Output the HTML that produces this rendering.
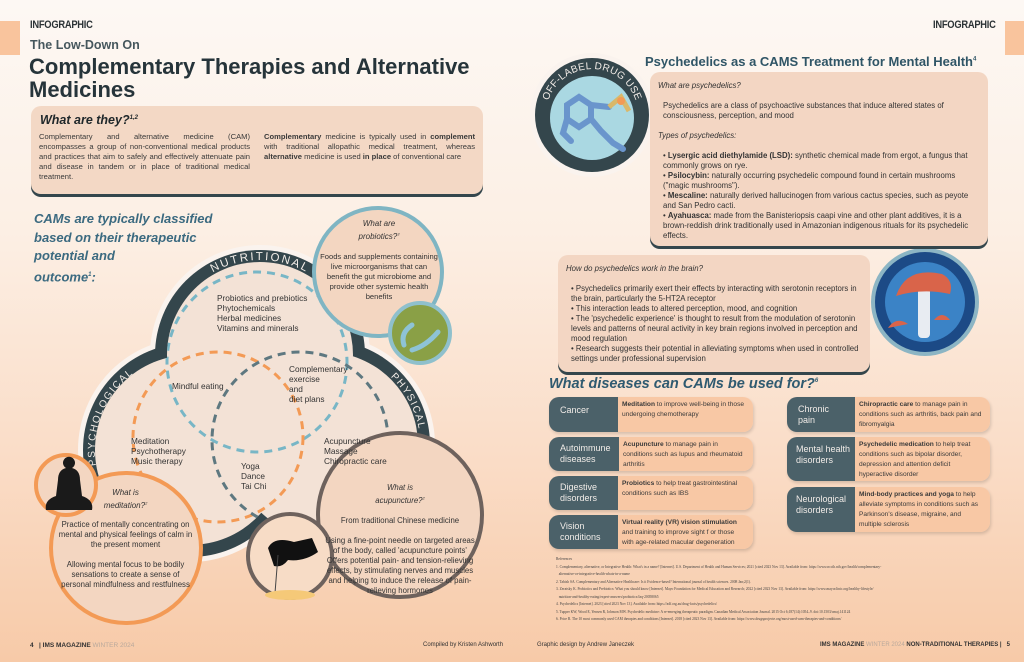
<!DOCTYPE html>
<html><head><meta charset="utf-8"><style>
*{margin:0;padding:0;box-sizing:border-box}
body{width:1024px;height:662px;position:relative;overflow:hidden;font-family:"Liberation Sans",sans-serif;color:#2c3336;
background:linear-gradient(180deg,#fdf8f4 0%,#fcefe4 35%,#fadcc6 70%,#f7caa8 100%);}
.a{position:absolute}
.inf{font-size:11px;font-weight:bold;letter-spacing:-0.3px;transform:scaleX(.85);transform-origin:left top}
.box{position:absolute;background:#f3d8c5;border-radius:10px;box-shadow:0 3px 0 #34464c}
.t9{font-size:7.6px;line-height:10px}
.row{position:absolute;border-radius:10px;overflow:hidden;display:flex;box-shadow:1px 2px 3px rgba(0,0,0,.15)}
.row .l{background:#4b6169;color:#f1ece8;font-size:9px;line-height:11px;padding-left:11px;display:flex;align-items:center}
.row .r{background:#f8c8a5;flex:1;font-size:6.6px;line-height:10px;padding:3px 6px 0 4px;color:#3a3a3a}
.ref{font-family:"Liberation Serif",serif;font-size:3.6px;line-height:7.5px;color:#444}
.c{text-align:center}
</style></head><body>
<div class="a" style="left:0;top:21px;width:20px;height:34px;background:#f9c49d"></div>
<div class="a" style="left:1005px;top:21px;width:19px;height:34px;background:#f9c49d"></div>
<div class="a inf" style="left:30px;top:19px">INFOGRAPHIC</div>
<div class="a inf" style="left:933px;top:19px">INFOGRAPHIC</div>
<div class="a" style="left:30px;top:38px;font-size:12.5px;font-weight:bold;color:#46575d">The Low-Down On</div>
<div class="a" style="left:29px;top:55px;font-size:22px;line-height:23px;font-weight:bold;color:#26343a">Complementary Therapies and Alternative<br>Medicines</div>

<div class="box" style="left:31px;top:106px;width:452px;height:88px"></div>
<div class="a" style="left:40px;top:113px;font-size:12.5px;font-weight:bold;font-style:italic;color:#20282b">What are they?<sup style="font-size:6px">1,2</sup></div>
<div class="a t9" style="left:39px;top:132px;width:211px;text-align:justify;color:#3a3a3a">Complementary and alternative medicine (CAM) encompasses a group of non-conventional medical products and practices that aim to safely and effectively attenuate pain and disease in tandem or in place of traditional medical treatment.</div>
<div class="a t9" style="left:264px;top:132px;width:211px;text-align:justify;color:#3a3a3a"><b>Complementary</b> medicine is typically used in <b>complement</b> with traditional allopathic medical treatment, whereas <b>alternative</b> medicine is used <b>in place</b> of conventional care</div>

<div class="a" style="left:34px;top:210px;font-size:13px;line-height:18.5px;font-weight:bold;font-style:italic;color:#3b6a80">CAMs are typically classified<br>based on their therapeutic<br>potential and<br>outcome<sup style="font-size:6px">1</sup>:</div>

<svg class="a" style="left:0;top:0" width="1024" height="662">
<defs>
<clipPath id="inner"><circle cx="260" cy="355" r="93"/><circle cx="190" cy="450" r="95"/><circle cx="325" cy="445" r="93"/></clipPath>
<path id="arcN" d="M178,307 A95,95 0 0 1 342,307"/>
<path id="arcPs" d="M98,475 A95,95 0 0 1 142,368"/>
<path id="arcPh" d="M372,363 A95,95 0 0 1 420,453"/>
<path id="arcD" d="M547.6,127 A46,46 0 0 1 592,69 A46,46 0 0 1 636.4,127"/>
</defs>
<g fill="#faf3ee"><circle cx="260" cy="355" r="110"/><circle cx="190" cy="450" r="112"/><circle cx="325" cy="445" r="110"/></g>
<g fill="#34464c"><circle cx="260" cy="355" r="105"/><circle cx="190" cy="450" r="107"/><circle cx="325" cy="445" r="105"/></g>
<g fill="#f3e2d6"><circle cx="260" cy="355" r="93"/><circle cx="190" cy="450" r="95"/><circle cx="325" cy="445" r="93"/></g>
<g clip-path="url(#inner)" fill="none" stroke-width="3" stroke-dasharray="8,6">
<circle cx="257" cy="362" r="90" stroke="#78b6c6"/>
<circle cx="218" cy="437" r="85" stroke="#f39a55"/>
<circle cx="300" cy="440" r="88" stroke="#5e7880"/>
</g>
<g font-family="Liberation Sans" fill="#f3ede8">
<text font-size="11.5" letter-spacing="2"><textPath href="#arcN" startOffset="50%" text-anchor="middle">NUTRITIONAL</textPath></text>
<text font-size="10" letter-spacing="1.5"><textPath href="#arcPs" startOffset="50%" text-anchor="middle">PSYCHOLOGICAL</textPath></text>
<text font-size="10" letter-spacing="1.5"><textPath href="#arcPh" startOffset="50%" text-anchor="middle">PHYSICAL</textPath></text>
</g>
<circle cx="378" cy="272" r="64" fill="#f3d6c1" stroke="#7fb5c3" stroke-width="4"/>
<circle cx="420" cy="333" r="30" fill="#8aa046" stroke="#8fc0cc" stroke-width="4"/>
<path d="M404,345 q-4,-12 8,-20 M412,350 q14,-4 26,-18" stroke="#8ec3d6" stroke-width="5" fill="none" stroke-linecap="round"/>
<circle cx="126" cy="548" r="75" fill="#f3d6c1" stroke="#f39a55" stroke-width="4"/>
<circle cx="66" cy="485" r="30" fill="#f3d6c1" stroke="#f39a55" stroke-width="4"/>
<path d="M46,510 q-2,-10 10,-14 l2,-16 q0,-10 8,-12 a6,6 0 1 1 6,0 q8,2 8,12 l2,16 q12,4 10,14 z" fill="#1a1a1a"/>
<circle cx="400" cy="515" r="82" fill="#f3d6c1" stroke="#6e625d" stroke-width="4"/>
<circle cx="290" cy="556" r="42" fill="#f7dcc6" stroke="#6e625d" stroke-width="4"/>
<path d="M268,548 q6,-12 26,-6 l18,-4 l6,14 q-14,10 -30,8 q-6,8 -14,6 z" fill="#111"/>
<line x1="278" y1="555" x2="275" y2="593" stroke="#444" stroke-width="1"/>
<ellipse cx="290" cy="595" rx="25" ry="5" fill="#f5c978"/>
<circle cx="592" cy="115" r="62" fill="#faf3ee"/>
<circle cx="592" cy="115" r="57" fill="#34464c"/>
<circle cx="592" cy="118" r="42" fill="#aad8e2"/>
<g stroke="#6a95cc" stroke-width="6" fill="none" stroke-linecap="round"><path d="M567,105 l12,-8 l12,8 l0,14 l-12,8 l-12,-8 z"/><path d="M591,119 l10,12 l12,12 l10,6"/><path d="M591,105 l18,2"/><path d="M567,119 l-4,14 l8,8"/></g>
<path d="M609,107 l12,-10 l8,14" stroke="#d9b86a" stroke-width="5" fill="none"/>
<circle cx="621" cy="101" r="4" fill="#f39a55"/>
<text font-family="Liberation Sans" font-size="10" fill="#f3ede8" letter-spacing="0.3"><textPath href="#arcD" startOffset="50%" text-anchor="middle">OFF-LABEL DRUG USE</textPath></text>
<circle cx="925" cy="302" r="54" fill="#8cb5c4"/>
<circle cx="925" cy="302" r="50" fill="#1c4a86"/>
<circle cx="925" cy="302" r="40" fill="#3b83c6"/>
<rect x="918" y="288" width="12" height="50" rx="4" fill="#e8ecf2"/>
<path d="M896,296 q10,-30 46,-22 q12,6 8,20 q-28,-6 -54,2z" fill="#d9644a"/>
<path d="M888,328 q8,-12 20,-4 z" fill="#d9644a"/>
<path d="M934,320 q8,-10 16,0 z" fill="#d9644a"/>
</svg>

<div class="a" style="left:217px;top:293px;font-size:8.3px;line-height:10px;color:#333">Probiotics and prebiotics<br>Phytochemicals<br>Herbal medicines<br>Vitamins and minerals</div>
<div class="a" style="left:172px;top:381px;font-size:8.3px;color:#333">Mindful eating</div>
<div class="a" style="left:289px;top:364px;font-size:8.3px;line-height:10px;color:#333">Complementary<br>exercise<br>and<br>diet plans</div>
<div class="a" style="left:131px;top:436px;font-size:8.3px;line-height:10px;color:#333">Meditation<br>Psychotherapy<br>Music therapy</div>
<div class="a" style="left:241px;top:461px;font-size:8.3px;line-height:10px;color:#333">Yoga<br>Dance<br>Tai Chi</div>
<div class="a" style="left:324px;top:436px;font-size:8.3px;line-height:10px;color:#333">Acupuncture<br>Massage<br>Chiropractic care</div>

<div class="a c" style="left:320px;top:219px;width:118px;font-size:8px;line-height:10px;color:#333"><i>What are<br>probiotics?<sup style="font-size:4px">3</sup></i><br><br><span style="font-size:7.6px">Foods and supplements containing live microorganisms that can benefit the gut microbiome and provide other systemic health benefits</span></div>
<div class="a c" style="left:58px;top:488px;width:135px;font-size:8px;line-height:10px;color:#333"><i>What is<br>meditation?<sup style="font-size:4px">2</sup></i></div>
<div class="a c" style="left:58px;top:520px;width:135px;font-size:7.8px;line-height:10px;color:#333">Practice of mentally concentrating on mental and physical feelings of calm in the present moment<br><br>Allowing mental focus to be bodily sensations to create a sense of personal mindfulness and restfulness</div>
<div class="a c" style="left:325px;top:483px;width:150px;font-size:7.8px;line-height:10px;color:#333"><i>What is<br>acupuncture?<sup style="font-size:4px">2</sup></i><br><br>From traditional Chinese medicine<br><br>Using a fine-point needle on targeted areas of the body, called 'acupuncture points'<br>Offers potential pain- and tension-relieving effects, by stimulating nerves and muscles and helping to induce the release of pain-relieving hormones</div>

<div class="a" style="left:645px;top:54px;font-size:13px;font-weight:bold;color:#2f5566">Psychedelics as a CAMS Treatment for Mental Health<sup style="font-size:6px">4</sup></div>
<div class="box" style="left:650px;top:72px;width:338px;height:174px;background:#f3d6c3"></div>
<div class="a" style="left:658px;top:81px;width:325px;font-size:7.8px;line-height:10px;color:#333">
<i>What are psychedelics?</i><br><br>
<div style="padding-left:5px">Psychedelics are a class of psychoactive substances that induce altered states of consciousness, perception, and mood</div><br>
<i>Types of psychedelics:</i><br><br>
<div style="padding-left:5px">• <b>Lysergic acid diethylamide (LSD):</b> synthetic chemical made from ergot, a fungus that commonly grows on rye.<br>• <b>Psilocybin:</b> naturally occurring psychedelic compound found in certain mushrooms ("magic mushrooms").<br>• <b>Mescaline:</b> naturally derived hallucinogen from various cactus species, such as peyote and San Pedro cacti.<br>• <b>Ayahuasca:</b> made from the Banisteriopsis caapi vine and other plant additives, it is a brown-reddish drink traditionally used in Amazonian indigenous rituals for its psychedelic effects.</div></div>

<div class="box" style="left:558px;top:255px;width:312px;height:117px;background:#f3d6c3"></div>
<div class="a" style="left:566px;top:264px;width:300px;font-size:7.8px;line-height:10px;color:#333"><i>How do psychedelics work in the brain?</i><br><br>
<div style="padding-left:5px">• Psychedelics primarily exert their effects by interacting with serotonin receptors in the brain, particularly the 5-HT2A receptor<br>• This interaction leads to altered perception, mood, and cognition<br>• The 'psychedelic experience' is thought to result from the modulation of serotonin levels and patterns of neural activity in key brain regions involved in perception and mood regulation<br>• Research suggests their potential in alleviating symptoms when used in controlled settings under professional supervision</div></div>

<div class="a" style="left:549px;top:376px;font-size:14.5px;font-weight:bold;font-style:italic;color:#2f5a70">What diseases can CAMs be used for?<sup style="font-size:6px">6</sup></div>

<div class="row" style="left:549px;top:397px;width:204px;height:35px"><div class="l" style="width:69px;align-items:flex-start;padding-top:8px">Cancer</div><div class="r"><b>Meditation</b> to improve well-being in those undergoing chemotherapy</div></div>
<div class="row" style="left:549px;top:437px;width:204px;height:34px"><div class="l" style="width:70px">Autoimmune<br>diseases</div><div class="r"><b>Acupuncture</b> to manage pain in conditions such as lupus and rheumatoid arthritis</div></div>
<div class="row" style="left:549px;top:476px;width:204px;height:34px"><div class="l" style="width:69px">Digestive<br>disorders</div><div class="r"><b>Probiotics</b> to help treat gastrointestinal conditions such as IBS</div></div>
<div class="row" style="left:549px;top:515px;width:204px;height:34px"><div class="l" style="width:69px">Vision<br>conditions</div><div class="r"><b>Virtual reality (VR) vision stimulation</b> and training to improve sight f or those with age-related macular degeneration</div></div>
<div class="row" style="left:787px;top:397px;width:203px;height:35px"><div class="l" style="width:68px">Chronic<br>pain</div><div class="r"><b>Chiropractic care</b> to manage pain in conditions such as arthritis, back pain and fibromyalgia</div></div>
<div class="row" style="left:787px;top:437px;width:203px;height:44px"><div class="l" style="width:68px;padding-left:9px;align-items:flex-start;padding-top:7px;white-space:nowrap">Mental health<br>disorders</div><div class="r"><b>Psychedelic medication</b> to help treat conditions such as bipolar disorder, depression and attention deficit hyperactive disorder</div></div>
<div class="row" style="left:787px;top:487px;width:203px;height:45px"><div class="l" style="width:68px;padding-left:9px;align-items:flex-start;padding-top:7px">Neurological<br>disorders</div><div class="r"><b>Mind-body practices and yoga</b> to help alleviate symptoms in conditions such as Parkinson's disease, migraine, and multiple sclerosis</div></div>

<div class="a ref" style="left:556px;top:556px;width:430px">References<br>1. Complementary, alternative, or Integrative Health: What's in a name? [Internet]. U.S. Department of Health and Human Services; 2021 [cited 2023 Nov 13]. Available from: https://www.nccih.nih.gov/health/complementary-<br>&nbsp;&nbsp;&nbsp;alternative-or-integrative-health-whats-in-a-name<br>2. Tabish SA. Complementary and Alternative Healthcare: Is it Evidence-based? International journal of health sciences. 2008 Jan;2(1).<br>3. Zeratsky K. Probiotics and Prebiotics: What you should know [Internet]. Mayo Foundation for Medical Education and Research; 2022 [cited 2023 Nov 13]. Available from: https://www.mayoclinic.org/healthy-lifestyle/<br>&nbsp;&nbsp;&nbsp;nutrition-and-healthy-eating/expert-answers/probiotics/faq-20058065<br>4. Psychedelics [Internet]. 2023 [cited 2023 Nov 13]. Available from: https://adf.org.au/drug-facts/psychedelics/<br>5. Tupper KW, Wood E, Yensen R, Johnson MW. Psychedelic medicine: A re-emerging therapeutic paradigm. Canadian Medical Association Journal. 2015 Oct 6;187(14):1054–9. doi:10.1503/cmaj.141124<br>6. Price R. The 10 most commonly used CAM therapies and conditions [Internet]. 2018 [cited 2023 Nov 13]. Available from: https://www.drugsprojecte.org/most-used-cam-therapies-and-conditions/</div>

<div class="a" style="left:30px;top:642px;font-size:6.5px;font-weight:bold;color:#333;white-space:nowrap">4 &nbsp;&nbsp;| IMS MAGAZINE <span style="color:#b9a99c;font-weight:normal">WINTER 2024</span></div>
<div class="a" style="left:423px;top:642px;font-size:6px;color:#333;white-space:nowrap">Compiled by Kristen Ashworth</div>
<div class="a" style="left:537px;top:642px;font-size:6px;color:#333;white-space:nowrap">Graphic design by Andrew Janeczek</div>
<div class="a" style="left:820px;top:642px;font-size:6px;font-weight:bold;color:#333;white-space:nowrap">IMS MAGAZINE <span style="color:#b9a99c;font-weight:normal">WINTER 2024</span> NON-TRADITIONAL THERAPIES | &nbsp;&nbsp;5</div>
</body></html>
